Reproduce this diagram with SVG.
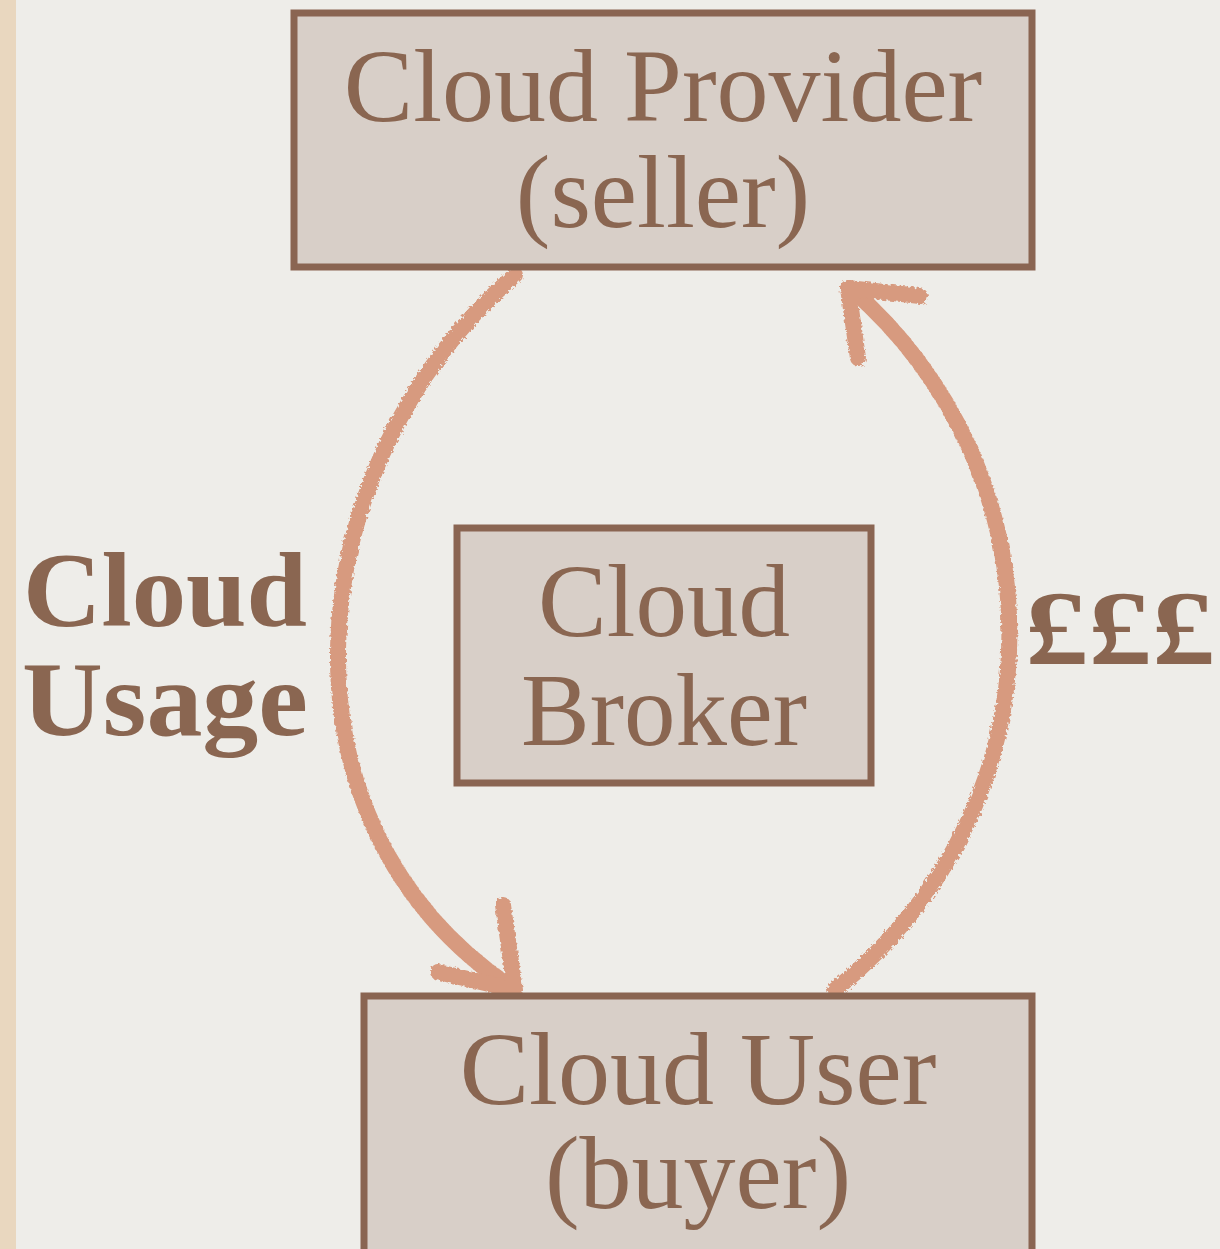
<svg xmlns="http://www.w3.org/2000/svg" width="1220" height="1249" viewBox="0 0 1220 1249">
<defs>
<style>
.box{fill:#d8cfc8;stroke:#8a6552;stroke-width:7}
.t{font-family:"Liberation Serif","Times New Roman",serif;fill:#8a6651;text-anchor:middle}
.b{font-weight:bold}
.arc{fill:none;stroke:#d79a7f;stroke-width:16;stroke-linecap:round;stroke-linejoin:round}
</style>
<filter id="rough" x="-10%" y="-10%" width="120%" height="120%">
<feTurbulence type="fractalNoise" baseFrequency="0.35" numOctaves="2" seed="3"/>
<feDisplacementMap in="SourceGraphic" scale="5"/>
</filter>
</defs>
<rect width="1220" height="1249" fill="#eeede9"/>
<rect width="16" height="1249" fill="#e9d7bf"/>
<g id="connectors" filter="url(#rough)">
<path class="arc" d="M515 275 C300 460 260 820 512 988"/>
<path class="arc" d="M438 972 L515 990 L503 905"/>
<path class="arc" d="M835 990 C1070 800 1060 470 850 288"/>
<path class="arc" d="M920 296 L848 288 L858 358"/>
</g>
<g id="provider">
<rect class="box" x="294" y="13" width="738" height="254"/>
<text class="t" x="663" y="121" font-size="104">Cloud Provider</text>
<text class="t" x="663" y="227" font-size="104">(seller)</text>
</g>
<g id="broker">
<rect class="box" x="457" y="528" width="414" height="255"/>
<text class="t" x="664" y="636" font-size="103">Cloud</text>
<text class="t" x="664" y="745" font-size="103">Broker</text>
</g>
<g id="user">
<rect class="box" x="364" y="996" width="668" height="260"/>
<text class="t" x="698" y="1104" font-size="104">Cloud User</text>
<text class="t" x="698" y="1208" font-size="104">(buyer)</text>
</g>
<g id="label-usage">
<text class="t b" x="165" y="626" font-size="106" textLength="284" lengthAdjust="spacingAndGlyphs">Cloud</text>
<text class="t b" x="165" y="735" font-size="106" textLength="286" lengthAdjust="spacingAndGlyphs">Usage</text>
</g>
<g id="label-money">
<text class="t b" x="1120" y="664" font-size="106" textLength="190" lengthAdjust="spacingAndGlyphs">£££</text>
</g>
</svg>
